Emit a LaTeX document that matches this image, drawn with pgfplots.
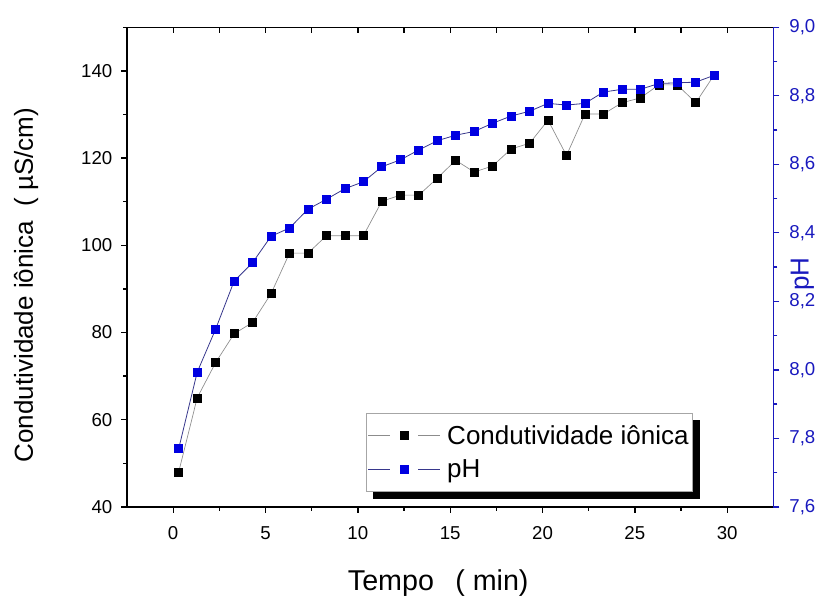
\documentclass[border=0pt]{standalone}
\usepackage{fontspec}
\setmainfont{Liberation Sans}
\usepackage{pgfplots}
\usepackage{pgfplotstable}
\pgfplotsset{compat=1.18}
\usetikzlibrary{backgrounds}
\definecolor{phblue}{RGB}{0,0,225}
\definecolor{axblue}{RGB}{25,25,190}
\definecolor{phline}{RGB}{55,55,140}
\definecolor{condline}{RGB}{140,140,140}

\pgfplotstableread{
t c
0.3 48.0
1.3 65.0
2.3 73.1
3.3 79.7
4.3 82.3
5.3 88.9
6.3 98.2
7.3 98.2
8.3 102.2
9.3 102.2
10.3 102.2
11.3 110.1
12.3 111.5
13.3 111.5
14.3 115.4
15.3 119.5
16.3 116.8
17.3 118.2
18.3 122.1
19.3 123.4
20.3 128.7
21.3 120.6
22.3 130.1
23.3 130.1
24.3 132.7
25.3 133.8
26.3 136.8
27.3 136.8
28.3 132.7
29.3 139.1
}\condtable

\pgfplotstableread{
t ph
0.3 7.770
1.3 7.993
2.3 8.119
3.3 8.259
4.3 8.313
5.3 8.390
6.3 8.414
7.3 8.469
8.3 8.498
9.3 8.529
10.3 8.549
11.3 8.593
12.3 8.613
13.3 8.642
14.3 8.669
15.3 8.685
16.3 8.696
17.3 8.720
18.3 8.741
19.3 8.755
20.3 8.778
21.3 8.773
22.3 8.778
23.3 8.811
24.3 8.819
25.3 8.819
26.3 8.836
27.3 8.838
28.3 8.840
29.3 8.860
}\phtable

\pgfplotsset{
  base/.style={
    scale only axis, width=484.7pt, height=359.6pt,
    at={(0pt,0pt)}, anchor=south west,
    xmin=-2.5, xmax=32.5,
    /pgf/number format/assume math mode=true,
    tick label style={font=\fontsize{14}{16}\selectfont},
    label style={font=\fontsize{19.5}{23}\selectfont},
    axis line style={line width=1.1pt},
    every tick/.style={line width=1pt},
    major tick length=4.5pt, minor tick length=3pt,
  },
  condstyle/.style={color=condline, line width=0.5pt, mark=square*, mark size=3pt, mark options={fill=black, draw=black, solid}},
  phstyle/.style={color=phline, line width=0.6pt, mark=square*, mark size=3pt, mark options={fill=phblue, draw=phblue, solid}},
}

\begin{document}
\begin{tikzpicture}
\path[use as bounding box] (-95.25pt,-68.5pt) rectangle (530.2pt,380.1pt);

% left axis: conductivity
\begin{axis}[base,
  axis x line*=bottom, axis y line*=left,
  tick align=outside,
  ymin=40, ymax=150,
  ytick={40,60,80,100,120,140},
  minor ytick={50,70,90,110,130,150},
  xtick={0,5,10,15,20,25,30},
  minor xtick={2.5,7.5,12.5,17.5,22.5,27.5},
  xticklabel style={yshift=-6.5pt},
  yticklabel style={xshift=-3pt},
  xlabel={Tempo\hspace{16pt}( min)},
  ylabel={Condutividade iônica\ \ ( µS/cm)},
  xlabel style={font=\fontsize{21.5}{25}\selectfont, at={(axis description cs:0.4815,-0.1745)}, anchor=base},
  ylabel style={at={(axis description cs:-0.156,0.4625)}, anchor=center},
]
\addplot[condstyle] table[x=t, y=c] {\condtable};
\end{axis}

% top ticks
\begin{axis}[base,
  axis x line*=top, axis y line=none,
  tick align=inside,
  ymin=0, ymax=1,
  xtick={0,2.5,5,7.5,10,12.5,15,17.5,20,22.5,25,27.5,30},
  xticklabels={},
]
\end{axis}

% right axis: pH
\begin{axis}[base,
  axis x line=none, axis y line*=right,
  tick align=outside,
  ymin=7.6, ymax=9.0,
  ytick={7.6,7.8,8.0,8.2,8.4,8.6,8.8,9.0},
  minor ytick={7.7,7.9,8.1,8.3,8.5,8.7,8.9},
  y axis line style={draw=axblue},
  y tick style={draw=axblue},
  yticklabel style={text=axblue, xshift=4pt, /pgf/number format/.cd, use comma, fixed, fixed zerofill, precision=1},
  ylabel={pH},
  ylabel style={text=axblue, at={(axis description cs:1.045,0.485)}, anchor=center},
  legend cell align=left,
  legend image code/.code={
    \draw[#1, mark=none] (0pt,0pt) -- (16.5pt,0pt);
    \draw[#1, mark=none] (37.5pt,0pt) -- (54pt,0pt);
    \draw[#1, only marks] plot coordinates {(27pt,0pt)};
  },
  legend style={
    name=mylegend,
    at={(axis description cs:0.3698,0.196)}, anchor=north west,
    draw=gray!70, line width=0.6pt, fill=white,
    font=\fontsize{19.5}{23}\selectfont,
    inner xsep=1pt, inner ysep=7pt,
    row sep=6pt, column sep=3pt,
  },
]
\addlegendimage{condstyle}
\addlegendentry{Condutividade iônica}
\addplot[phstyle] table[x=t, y=ph] {\phtable};
\addlegendentry{pH}
\end{axis}
\begin{scope}[on background layer]
\fill[black] ([shift={(5.25pt,-5.25pt)}]mylegend.south west) rectangle ([shift={(5.25pt,-5.25pt)}]mylegend.north east);
\end{scope}
\end{tikzpicture}
\end{document}
